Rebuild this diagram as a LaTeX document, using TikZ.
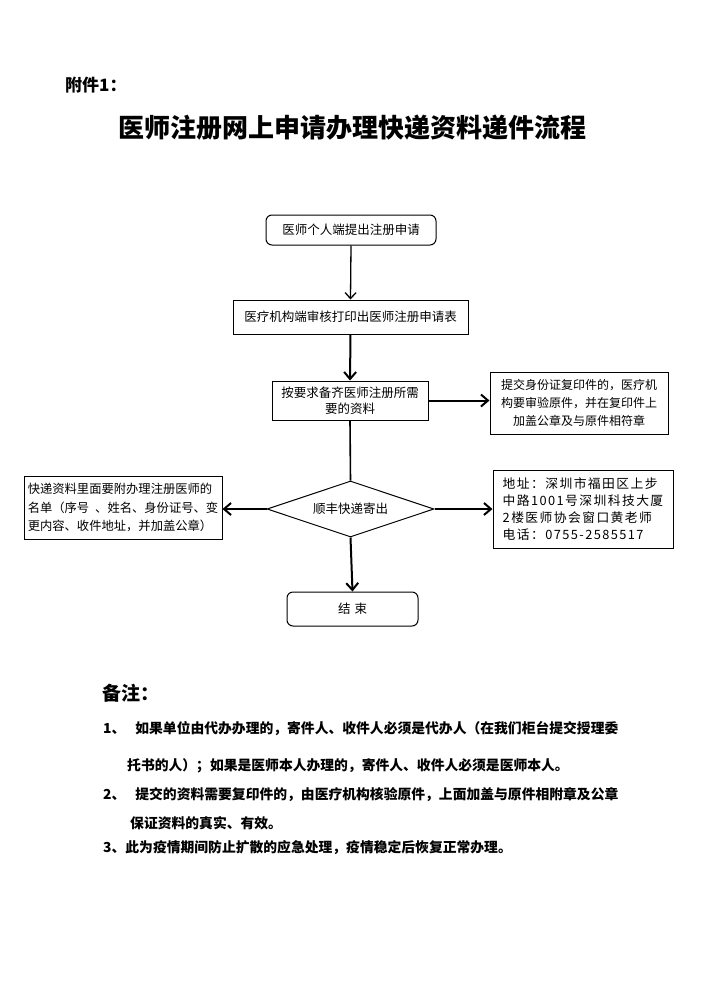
\documentclass[tikz,border=0pt]{standalone}
\usepackage{fontspec}
\setmainfont{Noto Sans CJK SC}
\usetikzlibrary{arrows.meta,shapes.geometric}
\tikzset{
  box/.style={draw, line width=1pt, inner sep=0pt, align=center, font=\fontsize{12.5}{16}\selectfont},
  rbox/.style={box, rounded corners=6pt},
  conn/.style={line width=1.3pt, -{Straight Barb[length=6pt,width=11pt,line width=1.3pt]}},
  thick conn/.style={line width=2pt, -{Straight Barb[length=7pt,width=12pt,line width=2pt]}},
  note/.style={anchor=west, inner sep=0pt, font=\fontsize{13.8}{16}\selectfont\bfseries}
}
\begin{document}
\begin{tikzpicture}[x=1pt,y=-1pt]
\useasboundingbox (0,0) rectangle (712,983);
\fill[white] (0,0) rectangle (712,983);

\node[anchor=west, inner sep=0pt, font=\fontsize{17}{20}\selectfont\bfseries] (att) at (65,85) {附件1：};
\node[inner sep=0pt, font=\fontsize{26}{30}\selectfont\bfseries] (title) at (352,128) {医师注册网上申请办理快递资料递件流程};

\node[rbox, minimum width=170pt, minimum height=30pt] (b1) at (351,230) {医师个人端提出注册申请};
\node[box, minimum width=235pt, minimum height=34pt] (b2) at (350.5,317) {医疗机构端审核打印出医师注册申请表};
\node[box, minimum width=156pt, minimum height=39pt, font=\fontsize{12.5}{16.5}\selectfont] (b3) at (350,400.5) {按要求备齐医师注册所需\\要的资料};
\node[box, minimum width=178pt, minimum height=62pt, font=\fontsize{12}{18}\selectfont] (b4) at (579,403) {提交身份证复印件的，医疗机\\构要审验原件，并在复印件上\\加盖公章及与原件相符章};
\node[box, draw, diamond, aspect=3, minimum width=167pt, minimum height=56pt, inner sep=0pt] (d) at (350.5,509) {};
\node[font=\fontsize{12.5}{16}\selectfont] (dt) at (350.5,509) {顺丰快递寄出};
\node[box, minimum width=198pt, minimum height=63pt, align=left, font=\fontsize{12.3}{18.5}\selectfont] (b5) at (123,507.5) {快递资料里面要附办理注册医师的\\名单（序号\hspace{6pt}、姓名、身份证号、变\\更内容、收件地址，并加盖公章）};
\node[box, minimum width=180pt, minimum height=78pt, align=left, font=\fontsize{12.8}{17}\selectfont\addfontfeatures{LetterSpace=11}] (b6) at (583,509) {地址：深圳市福田区上步\\中路1001号深圳科技大厦\\2楼医师协会窗口黄老师\\电话：0755-2585517};
\node[rbox, minimum width=131pt, minimum height=34pt] (b7) at (352.5,609) {结\hspace{4pt}束};

\draw[conn] (b1.south) -- (b2.north);
\draw[thick conn] (b2.south) -- (b3.north);
\draw[thick conn] (b3.east) -- (b4.west |- b3.east);
\draw[line width=1.6pt] (b3.south) -- (d.north);
\draw[thick conn] (d.west) -- (b5.east |- d.west);
\draw[thick conn] (d.east) -- (b6.west |- d.east);
\draw[thick conn] (d.south) -- (b7.north);

\node[anchor=west, inner sep=0pt, font=\fontsize{19}{22}\selectfont\bfseries] (rem) at (102,693) {备注：};
\node[note] (n1) at (103,728) {1、\hspace{10pt}如果单位由代办办理的，寄件人、收件人必须是代办人（在我们柜台提交授理委};
\node[note] (n1b) at (127,766) {托书的人）；如果是医师本人办理的，寄件人、收件人必须是医师本人。};
\node[note] (n2) at (103,795) {2、\hspace{10pt}提交的资料需要复印件的，由医疗机构核验原件，上面加盖与原件相附章及公章};
\node[note] (n2b) at (130,823) {保证资料的真实、有效。};
\node[note] (n3) at (103,848) {3、此为疫情期间防止扩散的应急处理，疫情稳定后恢复正常办理。};
\end{tikzpicture}
\end{document}
